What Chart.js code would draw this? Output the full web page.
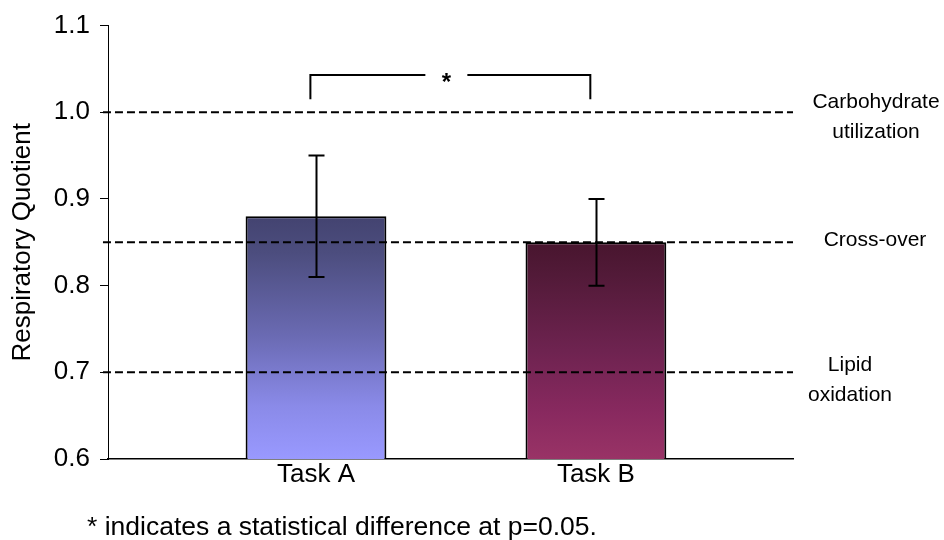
<!DOCTYPE html>
<html><head><meta charset="utf-8">
<script src="https://cdn.jsdelivr.net/npm/chart.js@4.4.0/dist/chart.umd.min.js"></script>
<style>html,body{margin:0;padding:0;background:#fff;}#c{display:block;}</style>
</head><body>
<canvas id="c" width="944" height="540"></canvas>
<script>
// ---- data ----
const categories = ['Task A', 'Task B'];
const categoryX = [1, 2];
const values = [0.88, 0.85];
const errors = [0.07, 0.05];
const refValues = [1.0, 0.85, 0.7];
const refLabels = [['Carbohydrate', 'utilization'], ['Cross-over'], ['Lipid', 'oxidation']];
const yTicks = [0.6, 0.7, 0.8, 0.9, 1.0, 1.1];
const xRange = [0.257, 2.704];
const refLineStartX = 0.239;
const bracketX = [0.98, 1.98];
const bracketY = [1.015, 1.043];
const bracketLabel = '*';
const footnote = '* indicates a statistical difference at p=0.05.';
const yTitle = 'Respiratory Quotient';

// ---- styles ----
const FONT = "'Liberation Sans', Arial, sans-serif";
const gradStopsA = [[0, '#434370'], [0.15, '#4c4d7e'], [0.5, '#6b6bb4'], [0.78, '#8a8ae8'], [1, '#9999ff']];
const gradStopsB = [[0, '#48152e'], [0.15, '#521a38'], [0.5, '#6e2350'], [0.78, '#88295f'], [1, '#993366']];
const barGrads = [gradStopsA, gradStopsB];
const labelDx = [83, 82, 57];
const labelBaseDy = [-4, 4, -1];
const labelLineGap = 29.5;

Chart.defaults.font.family = FONT;
Chart.defaults.color = '#000';

function barFill(ctx) {
  const chart = ctx.chart;
  const i = ctx.dataIndex || 0;
  if (!chart.chartArea) return barGrads[i][barGrads[i].length - 1][1];
  const ys = chart.scales.y;
  const top = ys.getPixelForValue(values[i]);
  const bottom = ys.getPixelForValue(ys.min);
  const g = chart.ctx.createLinearGradient(0, top, 0, bottom);
  barGrads[i].forEach(s => g.addColorStop(s[0], s[1]));
  return g;
}

const overlay = {
  id: 'overlay',
  afterDatasetsDraw(chart) {
    const c = chart.ctx, xs = chart.scales.x, ys = chart.scales.y;
    const area = chart.chartArea;
    c.save();
    // error bars
    c.strokeStyle = '#000';
    c.lineWidth = 2;
    const meta = chart.getDatasetMeta(chart.data.datasets.length - 1);
    meta.data.forEach((bar, i) => {
      const x = Math.round(bar.x) + 0.5;
      const yt = ys.getPixelForValue(values[i] + errors[i]);
      const yb = ys.getPixelForValue(values[i] - errors[i]);
      c.beginPath();
      c.moveTo(x, yt); c.lineTo(x, yb);
      c.moveTo(x - 8, yt); c.lineTo(x + 8, yt);
      c.moveTo(x - 8, yb); c.lineTo(x + 8, yb);
      c.stroke();
    });
    // significance bracket
    const bx0 = xs.getPixelForValue(bracketX[0]);
    const bx1 = xs.getPixelForValue(bracketX[1]);
    const byLow = ys.getPixelForValue(bracketY[0]);
    const byHigh = ys.getPixelForValue(bracketY[1]);
    const mid = (bx0 + bx1) / 2;
    c.beginPath();
    c.moveTo(bx0, byLow); c.lineTo(bx0, byHigh); c.lineTo(mid - 25, byHigh);
    c.moveTo(mid + 17, byHigh); c.lineTo(bx1, byHigh); c.lineTo(bx1, byLow);
    c.stroke();
    c.fillStyle = '#000';
    c.font = 'bold 24px ' + FONT;
    c.textAlign = 'center';
    c.textBaseline = 'alphabetic';
    c.fillText(bracketLabel, mid - 4, byHigh + 15);
    // reference line labels
    c.font = '21px ' + FONT;
    refValues.forEach((v, i) => {
      const y0 = ys.getPixelForValue(v) + labelBaseDy[i];
      refLabels[i].forEach((t, j) => {
        c.fillText(t, area.right + labelDx[i], y0 + j * labelLineGap);
      });
    });
    // footnote
    c.font = '26.5px ' + FONT;
    c.textAlign = 'left';
    c.fillText(footnote, 87, 535);
    c.restore();
  }
};

const refDatasets = refValues.map(v => ({
  type: 'line',
  data: [{x: refLineStartX, y: v}, {x: xRange[1], y: v}],
  borderColor: '#000',
  borderWidth: 2,
  borderDash: [8, 4],
  pointRadius: 0,
  fill: false,
  clip: false,
  order: 0
}));

new Chart(document.getElementById('c'), {
  type: 'bar',
  data: {
    datasets: [
      ...refDatasets,
      {
        type: 'bar',
        data: categoryX.map((x, i) => ({x: x, y: values[i]})),
        backgroundColor: barFill,
        borderColor: '#000',
        borderWidth: 2,
        borderSkipped: 'start',
        categoryPercentage: 1,
        barPercentage: 0.503,
        order: 1
      }
    ]
  },
  options: {
    responsive: false,
    animation: false,
    devicePixelRatio: 1,
    layout: { padding: { left: 0, right: 151, top: 23, bottom: 0 } },
    plugins: { legend: { display: false }, tooltip: { enabled: false } },
    scales: {
      x: {
        type: 'linear',
        offset: false,
        min: xRange[0],
        max: xRange[1],
        afterBuildTicks: s => { s.ticks = categoryX.map(v => ({value: v})); },
        afterFit: s => { s.height = 81; },
        ticks: {
          callback: (v, i) => categories[i],
          font: { size: 26 },
          color: '#000',
          padding: 0,
          maxRotation: 0,
          autoSkip: false
        },
        grid: { display: false, drawTicks: false, offset: false },
        border: { display: true, color: '#000', width: 1.5 }
      },
      y: {
        min: 0.6,
        max: 1.1,
        afterBuildTicks: s => { s.ticks = yTicks.map(v => ({value: v})); },
        afterFit: s => { s.width = 108; },
        ticks: {
          callback: v => v.toFixed(1),
          font: { size: 26 },
          color: '#000',
          padding: 10
        },
        grid: { display: true, drawOnChartArea: false, drawTicks: true, tickLength: 8, color: '#000', lineWidth: 1 },
        border: { display: true, color: '#000', width: 1 },
        title: {
          display: true,
          text: yTitle,
          font: { size: 26 },
          color: '#000',
          padding: { top: 7, bottom: 0 }
        }
      }
    }
  },
  plugins: [overlay]
});
</script>
</body></html>
